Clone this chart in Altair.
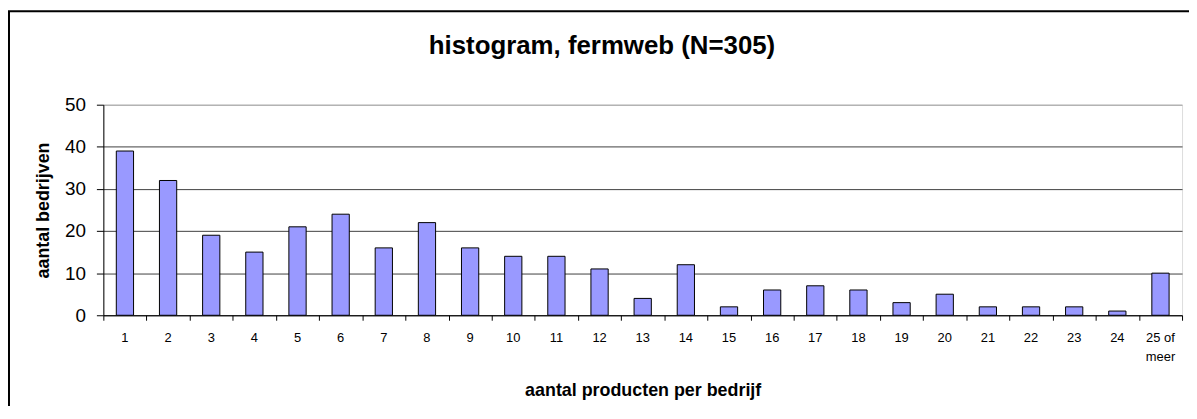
import altair as alt
import pandas as pd

categories = [str(i) for i in range(1, 25)] + ["25 of meer"]
counts = [39, 32, 19, 15, 21, 24, 16, 22, 16, 14, 14, 11, 4, 12, 2, 6, 7, 6, 3, 5, 2, 2, 2, 1, 10]
y_ticks = [0, 10, 20, 30, 40, 50]
boundaries = list(range(len(categories) + 1))

title_text = "histogram, fermweb (N=305)"
x_title = "aantal producten per bedrijf"
y_title = "aantal bedrijven"

FONT = "Liberation Sans"
W, H = 1086, 212

df = pd.DataFrame({"cat": categories, "val": counts})
bdf = pd.DataFrame({"b": boundaries})

bars = alt.Chart(df).mark_bar(
    fill="#9999FF", stroke="black", strokeWidth=1
).encode(
    x=alt.X(
        "cat:N",
        sort=categories,
        scale=alt.Scale(paddingInner=0.6, paddingOuter=0.3),
        axis=alt.Axis(
            orient="bottom",
            title=x_title,
            ticks=False,
            tickSize=0,
            labelAngle=0,
            labelFont=FONT,
            labelFontSize=13,
            labelColor="black",
            labelPadding=16,
            labelLineHeight=20,
            labelExpr="datum.label == '25 of meer' ? ['25 of', 'meer'] : datum.label",
            domain=True,
            domainColor="black",
            domainWidth=1,
            grid=False,
            titleFont=FONT,
            titleFontSize=18,
            titleFontWeight="bold",
            titleColor="black",
            titleX=W / 2,
            titleY=81,
            titleAlign="center",
            titleBaseline="alphabetic",
        ),
    ),
    y=alt.Y(
        "val:Q",
        scale=alt.Scale(domain=[0, 50], nice=False),
        axis=alt.Axis(
            title=y_title,
            values=y_ticks,
            tickSize=7,
            tickColor="black",
            labelFont=FONT,
            labelFontSize=19,
            labelColor="black",
            labelPadding=11,
            domain=True,
            domainColor="black",
            grid=True,
            gridColor={"condition": {"test": "datum.value >= 50", "value": "#9a9a9a"}, "value": "#404040"},
            gridWidth=1,
            titleFont=FONT,
            titleFontSize=18,
            titleFontWeight="bold",
            titleColor="black",
            titleAngle=270,
            titleX=-55,
            titleY=H / 2,
            titleAlign="center",
            titleBaseline="alphabetic",
        ),
    ),
)

ticks = alt.Chart(bdf).mark_point(opacity=0).encode(
    x=alt.X(
        "b:Q",
        scale=alt.Scale(domain=[0, len(categories)], nice=False, zero=False),
        axis=alt.Axis(
            orient="bottom",
            values=boundaries,
            labels=False,
            ticks=True,
            tickSize=5,
            tickColor="black",
            domain=False,
            grid=False,
            title=None,
        ),
    )
)

frame = alt.Chart(pd.DataFrame({"a": [0]})).mark_rect(
    fill="transparent", stroke="black", strokeWidth=2
).encode(
    x=alt.value(-95),
    x2=alt.value(1400),
    y=alt.value(-94),
    y2=alt.value(600),
)

chart = alt.layer(frame, bars, ticks).resolve_scale(
    x="independent"
).resolve_axis(
    x="independent"
).properties(
    width=W,
    height=H,
    title=alt.TitleParams(
        title_text,
        font=FONT,
        fontSize=26,
        fontWeight="bold",
        color="black",
        anchor="middle",
        dx=-41,
        offset=-70,
        baseline="alphabetic",
    ),
    autosize=alt.AutoSizeParams(type="none"),
    padding={"left": 96, "top": 96, "right": 7, "bottom": 90},
).configure_view(
    stroke="#808080", strokeWidth=1
).configure(background="white")

chart.save("out.html", embed_options={"renderer": "svg", "actions": False})
